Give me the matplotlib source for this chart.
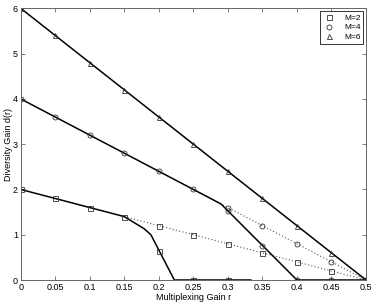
import matplotlib
matplotlib.use("Agg")
import matplotlib.pyplot as plt
from matplotlib.lines import Line2D

plt.rcParams['font.family'] = ['Liberation Sans', 'DejaVu Sans']

# ---- data ----
# M=6 curve
m6_line_r = [0, 0.5]
m6_line_d = [6, 0]
m6_mark_r = [0, 0.05, 0.1, 0.15, 0.2, 0.25, 0.3, 0.35, 0.4, 0.45, 0.5]
m6_mark_d = [6, 5.4, 4.8, 4.2, 3.6, 3.0, 2.4, 1.8, 1.2, 0.6, 0]

# M=4 solid curve
m4_line_r = [0, 0.25, 0.29, 0.4, 0.5]
m4_line_d = [4, 2.0, 1.68, 0, 0]
m4_mark_r = [0, 0.05, 0.1, 0.15, 0.2, 0.25, 0.3, 0.35, 0.4, 0.45, 0.5]
m4_mark_d = [4, 3.6, 3.2, 2.8, 2.4, 2.0, 1.52, 0.76, 0, 0, 0]
# M=4 dotted curve
m4_dot_r = [0.25, 0.5]
m4_dot_d = [2.0, 0]
m4_dmark_r = [0.3, 0.35, 0.4, 0.45, 0.5]
m4_dmark_d = [1.6, 1.2, 0.8, 0.4, 0]

# M=2 solid curve
m2_line_r = [0, 0.15, 0.179, 0.1885, 0.2225, 0.3333]
m2_line_d = [2, 1.4, 1.13, 1.0, 0, 0]
m2_mark_r = [0, 0.05, 0.1, 0.15, 0.2, 0.25, 0.3]
m2_mark_d = [2, 1.8, 1.6, 1.4, 0.65, 0, 0]
# M=2 dotted curve
m2_dot_r = [0.15, 0.5]
m2_dot_d = [1.4, 0]
m2_dmark_r = [0.2, 0.25, 0.3, 0.35, 0.4, 0.45, 0.5]
m2_dmark_d = [1.2, 1.0, 0.8, 0.6, 0.4, 0.2, 0]

x_ticks = [0, 0.05, 0.1, 0.15, 0.2, 0.25, 0.3, 0.35, 0.4, 0.45, 0.5]
x_ticklabels = ['0', '0.05', '0.1', '0.15', '0.2', '0.25', '0.3', '0.35', '0.4', '0.45', '0.5']
y_ticks = [0, 1, 2, 3, 4, 5, 6]
legend_labels = ['M=2', 'M=4', 'M=6']

# ---- figure ----
fig = plt.figure(figsize=(3.74, 3.03), dpi=100)
ax = fig.add_axes([0.0553, 0.0759, 0.9233, 0.8967])

ms = 3.6
mew = 0.6
dot_kw = dict(color='#555555', linestyle=(0, (1, 2)), linewidth=0.8)
solid_kw = dict(color='black', linewidth=1.1)
mk_kw = dict(linestyle='none', markerfacecolor='none', markeredgecolor='#333333',
             markersize=ms, markeredgewidth=mew)

# dotted lines
ax.plot(m2_dot_r, m2_dot_d, **dot_kw)
ax.plot(m4_dot_r, m4_dot_d, **dot_kw)
ax.plot(m2_dmark_r, m2_dmark_d, marker='s', **mk_kw)
ax.plot(m4_dmark_r, m4_dmark_d, marker='o', **mk_kw)

# solid lines
ax.plot(m2_line_r, m2_line_d, **solid_kw)
ax.plot(m4_line_r, m4_line_d, **solid_kw)
ax.plot(m6_line_r, m6_line_d, **solid_kw)
ax.plot(m2_mark_r, m2_mark_d, marker='s', **mk_kw)
ax.plot(m4_mark_r, m4_mark_d, marker='o', **mk_kw)
ax.plot(m6_mark_r, m6_mark_d, marker='^', **mk_kw)

ax.set_xlim(0, 0.5)
ax.set_ylim(0, 6)
ax.set_xticks(x_ticks)
ax.set_xticklabels(x_ticklabels)
ax.set_yticks(y_ticks)
ax.tick_params(direction='in', length=3, width=0.6, color='#666666',
               labelsize=6.5, pad=2, top=True, right=True)
for s in ax.spines.values():
    s.set_color('#666666')
    s.set_linewidth(0.7)

ax.set_xlabel('Multiplexing Gain r', fontsize=6.5, labelpad=1)
ax.set_ylabel('Diversity Gain d(r)', fontsize=6.5, labelpad=0)

handles = [Line2D([], [], marker=m, **mk_kw) for m in ['s', 'o', '^']]
leg = ax.legend(handles, legend_labels, loc='upper right', fontsize=6,
                frameon=True, fancybox=False, edgecolor='black',
                borderpad=0.35, handlelength=1.5, handletextpad=1.0,
                labelspacing=0.25, borderaxespad=0.3)
leg.get_frame().set_linewidth(0.7)

fig.savefig('out.png', dpi=100)
